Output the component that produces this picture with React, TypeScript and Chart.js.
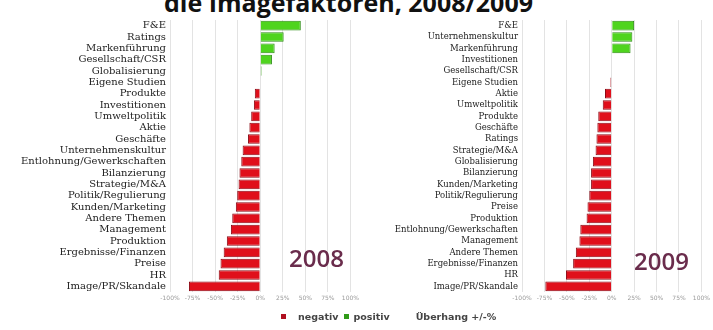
import React, { useEffect, useRef } from "react";
import { Chart, registerables } from "chart.js";

Chart.register(...registerables);

// Net balance (negative minus positive coverage, in %) per image factor
const themes2008 = [
  "F&E",
  "Ratings",
  "Markenführung",
  "Gesellschaft/CSR",
  "Globalisierung",
  "Eigene Studien",
  "Produkte",
  "Investitionen",
  "Umweltpolitik",
  "Aktie",
  "Geschäfte",
  "Unternehmenskultur",
  "Entlohnung/Gewerkschaften",
  "Bilanzierung",
  "Strategie/M&A",
  "Politik/Regulierung",
  "Kunden/Marketing",
  "Andere Themen",
  "Management",
  "Produktion",
  "Ergebnisse/Finanzen",
  "Preise",
  "HR",
  "Image/PR/Skandale",
];
const balance2008 = [
  45, 26, 16, 13, 1.5, -0.5, -6, -7, -10, -12, -13.5, -19.5, -21, -23, -24,
  -25.5, -27, -31, -32.5, -37, -40.5, -44, -46, -79,
];

const themes2009 = [
  "F&E",
  "Unternehmenskultur",
  "Markenführung",
  "Investitionen",
  "Gesellschaft/CSR",
  "Eigene Studien",
  "Aktie",
  "Umweltpolitik",
  "Produkte",
  "Geschäfte",
  "Ratings",
  "Strategie/M&A",
  "Globalisierung",
  "Bilanzierung",
  "Kunden/Marketing",
  "Politik/Regulierung",
  "Preise",
  "Produktion",
  "Entlohnung/Gewerkschaften",
  "Management",
  "Andere Themen",
  "Ergebnisse/Finanzen",
  "HR",
  "Image/PR/Skandale",
];
const balance2009 = [
  25, 23, 21, 0.5, -0.5, -1.5, -7.5, -10, -15, -16, -17, -18, -21, -23, -23,
  -25, -27, -28, -35, -36, -40, -43, -51, -74,
];

const axisMin = -100;
const axisMax = 100;
const axisStep = 25;

const NEG_FILL = "#e00f1b";
const NEG_EDGE = "#8a0914";
const POS_FILL = "#4fd41e";
const POS_EDGE = "#2b8c12";

type PanelProps = {
  labels: string[];
  values: number[];
  left: number;
  width: number;
  axisWidth: number;
  labelSize: number;
};

function BarPanel({ labels, values, left, width, axisWidth, labelSize }: PanelProps) {
  const ref = useRef<HTMLCanvasElement>(null);

  useEffect(() => {
    const canvas = ref.current;
    if (!canvas) return;
    const chart = new Chart(canvas, {
      type: "bar",
      data: {
        labels,
        datasets: [
          {
            data: values,
            backgroundColor: values.map((v) => (v >= 0 ? POS_FILL : NEG_FILL)),
            borderColor: values.map((v) => (v >= 0 ? POS_EDGE : NEG_EDGE)),
            borderWidth: 1,
            barPercentage: 0.86,
            categoryPercentage: 1,
          },
        ],
      },
      options: {
        indexAxis: "y",
        responsive: false,
        animation: false,
        devicePixelRatio: 1,
        layout: { padding: { top: 20, right: 7, left: 0, bottom: 0 } },
        plugins: {
          legend: { display: false },
          title: { display: false },
          tooltip: { enabled: false },
        },
        scales: {
          x: {
            min: axisMin,
            max: axisMax,
            ticks: {
              stepSize: axisStep,
              maxRotation: 0,
              padding: 3,
              color: "#9a9a9a",
              font: { size: 6, family: "DejaVu Sans" },
              callback: (v: any) => `${v}%`,
            },
            grid: { color: "#e3e3e3", drawTicks: false },
            border: { display: false },
            afterFit: (s: any) => {
              s.height = 18;
            },
          },
          y: {
            ticks: {
              autoSkip: false,
              padding: 4,
              color: "#222",
              font: { size: labelSize, family: "DejaVu Serif" },
            },
            grid: { display: false, drawTicks: false },
            border: { display: false },
            afterFit: (s: any) => {
              s.width = axisWidth;
            },
          },
        },
      },
    });
    return () => chart.destroy();
  }, [labels, values, axisWidth, labelSize]);

  return (
    <canvas
      ref={ref}
      width={width}
      height={310}
      style={{ position: "absolute", left, top: 0, width, height: 310 }}
    />
  );
}

const yearStyle: React.CSSProperties = {
  position: "absolute",
  fontFamily: "'Open Sans', sans-serif",
  fontWeight: 600,
  fontSize: 24,
  lineHeight: "26px",
  color: "#6a2c4c",
  whiteSpace: "nowrap",
};

const legendText: React.CSSProperties = {
  fontFamily: "'DejaVu Sans', sans-serif",
  fontWeight: 700,
  fontSize: 9.5,
  color: "#444",
  whiteSpace: "nowrap",
};

function Swatch({ color }: { color: string }) {
  return (
    <span
      style={{
        display: "inline-block",
        width: 5,
        height: 5,
        background: color,
        marginRight: 4,
      }}
    />
  );
}

export default function App() {
  return (
    <div
      style={{
        position: "fixed",
        left: 0,
        top: 0,
        width: 713,
        height: 330,
        overflow: "hidden",
        background: "#fff",
      }}
    >
      <div
        style={{
          position: "absolute",
          left: 164,
          top: -11,
          fontFamily: "'Open Sans', sans-serif",
          fontWeight: 700,
          fontSize: 25,
          lineHeight: "26px",
          color: "#111",
          whiteSpace: "nowrap",
        }}
      >
        die Imagefaktoren, 2008/2009
      </div>

      <BarPanel
        labels={themes2008}
        values={balance2008}
        left={0}
        width={362}
        axisWidth={170}
        labelSize={10}
      />
      <BarPanel
        labels={themes2009}
        values={balance2009}
        left={356}
        width={357}
        axisWidth={166}
        labelSize={8.5}
      />

      <div style={{ ...yearStyle, left: 289, top: 245 }}>2008</div>
      <div style={{ ...yearStyle, left: 634, top: 248 }}>2009</div>

      <div
        style={{
          position: "absolute",
          left: 281,
          top: 309,
          display: "flex",
          alignItems: "center",
          height: 14,
        }}
      >
        <Swatch color="#b01020" />
        <span style={{ ...legendText, marginLeft: 8, marginRight: 6 }}>negativ</span>
        <Swatch color="#2f9a18" />
        <span style={{ ...legendText, marginRight: 26 }}>positiv</span>
        <span style={legendText}>Überhang +/-%</span>
      </div>
    </div>
  );
}
